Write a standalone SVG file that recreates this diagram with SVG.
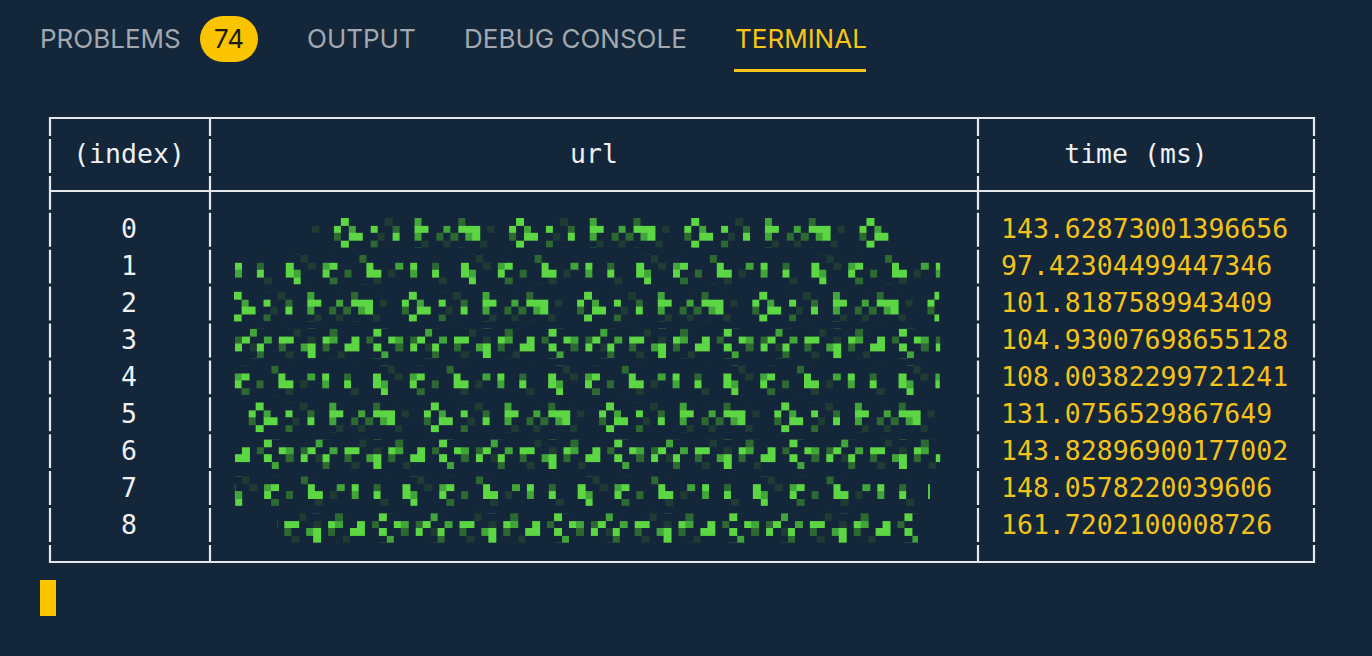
<svg xmlns="http://www.w3.org/2000/svg" width="1372" height="656" viewBox="0 0 1372 656">
<style>
.tab{font-family:Inter,"Noto Sans","Liberation Sans",sans-serif;font-size:26px;fill:#a2a8b0}
.mono{font-family:"DejaVu Sans Mono","Liberation Mono",monospace;font-size:26.5px}
.w{fill:#eef0f2}
.y{fill:#f3c21b}
.hl{stroke:#e6e9ec;stroke-width:2.2;fill:none}
.vl{stroke:#e6e9ec;stroke-width:2.2;fill:none;stroke-dasharray:33.9 3;stroke-dashoffset:14.9}
.b{fill:#5dd644}.m{fill:#42a53a}.d{fill:#2d6a31}.v{fill:#1f3c34}
</style>
<defs>
<pattern id="pA" patternUnits="userSpaceOnUse" width="24" height="4">
<g shape-rendering="crispEdges">
<rect class="v" x="9" y="0" width="1" height="1"/><rect class="d" x="17" y="0" width="1" height="1"/>
<rect class="b" x="0" y="1" width="1" height="1"/><rect class="d" x="3" y="1" width="1" height="1"/><rect class="b" x="7" y="1" width="1" height="1"/><rect class="v" x="10" y="1" width="1" height="1"/><rect class="m" x="12" y="1" width="1" height="1"/><rect class="b" x="13" y="1" width="1" height="1"/><rect class="b" x="18" y="1" width="1" height="1"/><rect class="m" x="22" y="1" width="1" height="1"/>
<rect class="m" x="0" y="2" width="1" height="1"/><rect class="b" x="3" y="2" width="1" height="1"/><rect class="b" x="7" y="2" width="1" height="1"/><rect class="m" x="8" y="2" width="1" height="1"/><rect class="b" x="12" y="2" width="1" height="1"/><rect class="d" x="15" y="2" width="1" height="1"/><rect class="b" x="18" y="2" width="2" height="1"/><rect class="v" x="21" y="2" width="1" height="1"/>
<rect class="v" x="4" y="3" width="1" height="1"/><rect class="b" x="8" y="3" width="1" height="1"/><rect class="d" x="13" y="3" width="1" height="1"/><rect class="v" x="19" y="3" width="1" height="1"/>
</g>
</pattern>
<pattern id="pB" patternUnits="userSpaceOnUse" width="24" height="4">
<g shape-rendering="crispEdges">
<rect class="d" x="2" y="0" width="1" height="1"/><rect class="b" x="10" y="0" width="1" height="1"/><rect class="v" x="16" y="0" width="1" height="1"/><rect class="m" x="20" y="0" width="1" height="1"/>
<rect class="m" x="0" y="1" width="1" height="1"/><rect class="b" x="2" y="1" width="3" height="1"/><rect class="v" x="6" y="1" width="1" height="1"/><rect class="b" x="9" y="1" width="1" height="1"/><rect class="m" x="11" y="1" width="1" height="1"/><rect class="b" x="14" y="1" width="1" height="1"/><rect class="d" x="17" y="1" width="1" height="1"/><rect class="b" x="20" y="1" width="2" height="1"/>
<rect class="d" x="1" y="2" width="1" height="1"/><rect class="m" x="3" y="2" width="1" height="1"/><rect class="b" x="4" y="2" width="1" height="1"/><rect class="d" x="9" y="2" width="1" height="1"/><rect class="b" x="11" y="2" width="2" height="1"/><rect class="v" x="15" y="2" width="1" height="1"/><rect class="b" x="17" y="2" width="1" height="1"/><rect class="m" x="20" y="2" width="1" height="1"/><rect class="d" x="23" y="2" width="1" height="1"/>
<rect class="v" x="0" y="3" width="1" height="1"/><rect class="v" x="5" y="3" width="1" height="1"/><rect class="b" x="10" y="3" width="1" height="1"/><rect class="d" x="14" y="3" width="1" height="1"/><rect class="v" x="21" y="3" width="1" height="1"/>
</g>
</pattern>
<pattern id="pC" patternUnits="userSpaceOnUse" width="24" height="4">
<g shape-rendering="crispEdges">
<rect class="m" x="2" y="0" width="1" height="1"/><rect class="v" x="8" y="0" width="1" height="1"/><rect class="d" x="13" y="0" width="1" height="1"/><rect class="b" x="19" y="0" width="1" height="1"/>
<rect class="d" x="0" y="1" width="1" height="1"/><rect class="b" x="1" y="1" width="1" height="1"/><rect class="m" x="4" y="1" width="1" height="1"/><rect class="b" x="6" y="1" width="2" height="1"/><rect class="v" x="10" y="1" width="1" height="1"/><rect class="b" x="12" y="1" width="1" height="1"/><rect class="m" x="13" y="1" width="1" height="1"/><rect class="b" x="16" y="1" width="1" height="1"/><rect class="d" x="18" y="1" width="1" height="1"/><rect class="b" x="21" y="1" width="1" height="1"/><rect class="m" x="22" y="1" width="1" height="1"/>
<rect class="b" x="0" y="2" width="1" height="1"/><rect class="v" x="2" y="2" width="1" height="1"/><rect class="b" x="3" y="2" width="1" height="1"/><rect class="d" x="6" y="2" width="1" height="1"/><rect class="m" x="9" y="2" width="1" height="1"/><rect class="b" x="10" y="2" width="1" height="1"/><rect class="d" x="12" y="2" width="1" height="1"/><rect class="b" x="15" y="2" width="2" height="1"/><rect class="b" x="19" y="2" width="1" height="1"/><rect class="d" x="22" y="2" width="1" height="1"/>
<rect class="d" x="3" y="3" width="1" height="1"/><rect class="v" x="7" y="3" width="1" height="1"/><rect class="b" x="10" y="3" width="1" height="1"/><rect class="v" x="14" y="3" width="1" height="1"/><rect class="m" x="20" y="3" width="1" height="1"/>
</g>
</pattern>
</defs>
<rect width="1372" height="656" fill="#14263a"/>
<g id="tabs">
<text class="tab" x="40" y="48">PROBLEMS</text>
<rect x="200" y="16" width="58" height="46" rx="23" fill="#fbc400"/>
<text x="229" y="48" text-anchor="middle" style="font-family:Inter,'Liberation Sans',sans-serif;font-size:26px;fill:#1b1b1b">74</text>
<text class="tab" x="307" y="48">OUTPUT</text>
<text class="tab" x="464" y="48">DEBUG CONSOLE</text>
<text class="tab" x="735" y="48" style="fill:#f5c518">TERMINAL</text>
<rect x="734" y="69" width="132" height="3" fill="#f5c518"/>
</g>
<g id="table-lines">
<path class="hl" d="M49 118H1315M49 191H1315M49 562H1315"/>
<path class="vl" d="M50 117V563M210 117V563M978 117V563M1314 117V563"/>
</g>
<g id="header" class="mono w">
<text x="129" y="163" text-anchor="middle">(index)</text>
<text x="594" y="163" text-anchor="middle">url</text>
<text x="1136" y="163" text-anchor="middle">time (ms)</text>
</g>
<g id="index" class="mono w" text-anchor="middle">
<text x="129" y="238">0</text>
<text x="129" y="275">1</text>
<text x="129" y="312">2</text>
<text x="129" y="349">3</text>
<text x="129" y="386">4</text>
<text x="129" y="423">5</text>
<text x="129" y="460">6</text>
<text x="129" y="497">7</text>
<text x="129" y="534">8</text>
</g>
<g id="url-mosaic">
<g transform="translate(268.2 218) scale(7.3 7.4)"><rect x="6" y="0" width="79.2" height="4" fill="url(#pB)"/></g>
<g transform="translate(235 254.9) scale(7.3 7.4)"><rect x="0" y="0" width="96.6" height="4" fill="url(#pA)"/></g>
<g transform="translate(161.0 291.8) scale(7.3 7.4)"><rect x="10" y="0" width="96.6" height="4" fill="url(#pB)"/></g>
<g transform="translate(235 328.7) scale(7.3 7.4)"><rect x="0" y="0" width="96.6" height="4" fill="url(#pC)"/></g>
<g transform="translate(147 365.6) scale(7.3 7.4)"><rect x="12" y="0" width="96.6" height="4" fill="url(#pA)"/></g>
<g transform="translate(183 402.5) scale(7.3 7.4)"><rect x="7" y="0" width="96.6" height="4" fill="url(#pB)"/></g>
<g transform="translate(125.5 439.4) scale(7.3 7.4)"><rect x="15" y="0" width="96.6" height="4" fill="url(#pC)"/></g>
<g transform="translate(176.5 476.3) scale(7.3 7.4)"><rect x="8" y="0" width="95.2" height="4" fill="url(#pA)"/></g>
<g transform="translate(240.5 513.2) scale(7.3 7.4)"><rect x="5" y="0" width="87.8" height="4" fill="url(#pC)"/></g>
</g>
<g id="times" class="mono y">
<text x="1001" y="238">143.62873001396656</text>
<text x="1001" y="275">97.42304499447346</text>
<text x="1001" y="312">101.8187589943409</text>
<text x="1001" y="349">104.93007698655128</text>
<text x="1001" y="386">108.00382299721241</text>
<text x="1001" y="423">131.0756529867649</text>
<text x="1001" y="460">143.82896900177002</text>
<text x="1001" y="497">148.0578220039606</text>
<text x="1001" y="534">161.7202100008726</text>
</g>
<rect id="cursor" x="40" y="580" width="16" height="36" fill="#fbc400"/>
</svg>
